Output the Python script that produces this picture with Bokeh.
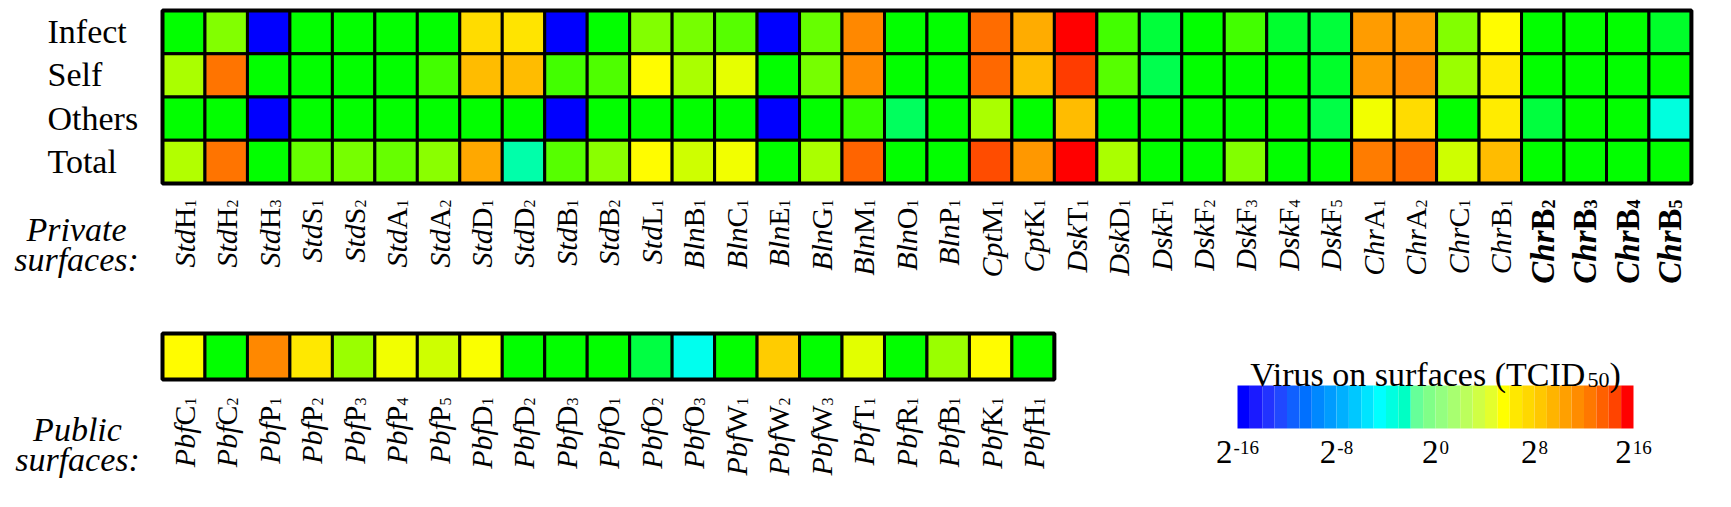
import colorsys
import numpy as np
from bokeh.plotting import figure
from bokeh.models import (ColumnDataSource, LinearColorMapper, Range1d, LabelSet, Label)
from bokeh.embed import file_html
from bokeh.resources import INLINE

# ---------------- data ----------------
rows = ["Infect", "Self", "Others", "Total"]

private_prefix = ["Std"] * 12 + ["Bln"] * 7 + ["Cpt"] * 2 + ["Dsk"] * 7 + ["Chr"] * 8
private_letter = ["H", "H", "H", "S", "S", "A", "A", "D", "D", "B", "B", "L",
                  "B", "C", "E", "G", "M", "O", "P",
                  "M", "K",
                  "T", "D", "F", "F", "F", "F", "F",
                  "A", "A", "C", "B", "B", "B", "B", "B"]
private_sub = ["1", "2", "3", "1", "2", "1", "2", "1", "2", "1", "2", "1",
               "1", "1", "1", "1", "1", "1", "1",
               "1", "1",
               "1", "1", "1", "2", "3", "4", "5",
               "1", "2", "1", "1", "2", "3", "4", "5"]
private_bold = [False] * 32 + [True] * 4

# log2 of virus on surfaces (TCID50)
infect = [0, 4, -16, 0, 0, 0, 0, 9, 8.8, -16,
          0, 4, 3.7, 2.7, -16, 3.2, 11.7, 0, 0, 12.5, 10.5, 16, 2.1, -1.8,
          0, 2, -1.5, -1.8, 11, 11, 4, 8, 0, 0, 0, -1.3]
self_ = [5.3, 12.3, 0, 0, 0, 0, 2.1, 10, 10.1, 2,
         2.4, 8, 5.3, 7.2, 0, 3.7, 11.6, 0, 0, 12.7, 10, 14, 2.7, -2.5,
         0, 0, 0, -1.3, 11, 11.6, 4.8, 8.5, 0, 0, 0, 0]
others = [0, 0, -16, 0, 0, 0, 0, 0, 0, -16,
          0, 0, 0, 0, -16, 0, 1.6, -3, 0, 5.3, 0, 10, 0, 0,
          0, 0, 0, -2.2, 7.5, 9, 0, 8.5, -1.9, 0, 0, -6.9]
total = [5.5, 12.3, 0, 3.2, 3.7, 3.2, 4.3, 10.7, -5.3, 2.7,
         4.3, 8, 6.4, 7.5, 0, 5.3, 12.8, 0, 0, 13.6, 11.2, 16, 5.3, 0,
         0, 4, 0, 0, 12, 12.5, 6.4, 10, 0, 0, 0, 0]

public_prefix = ["Pbf"] * 21
public_letter = ["C", "C", "P", "P", "P", "P", "P", "D", "D", "D", "O", "O", "O",
                 "W", "W", "W", "T", "R", "B", "K", "H"]
public_sub = ["1", "2", "1", "2", "3", "4", "5", "1", "2", "3", "1", "2", "3",
              "1", "2", "3", "1", "1", "1", "1", "1"]
public_vals = [8, 0, 11.7, 8.7, 4.8, 7.5, 6.4, 7.8, 0, 0, 0, -2.1, -7.5,
               0, 9.6, 0, 7, 0, 4.8, 8, 0]

cbar_ticks = [-16, -8, 0, 8, 16]          # log2 values
cbar_tick_base = "2"
cbar_tick_exp = ["-16", "-8", "0", "8", "16"]
cbar_title_main, cbar_title_sub, cbar_title_end = "Virus on surfaces (TCID", "50", ")"

# ---------------- styles / layout ----------------
FONT = "Liberation Serif"
cbar_palette = ["#0000ff", "#1a1aff", "#2233ff", "#2048ff", "#1060ff", "#0070ff", "#0088ff", "#009cff",
                "#00b0ff", "#00c8ff", "#00e4ff", "#00ffff", "#00ffe0", "#00ffc4", "#66ff99", "#80ff88",
                "#94ff80", "#a8ff70", "#bcff5c", "#d0ff44", "#e4ff2c", "#ffff00", "#ffe800", "#ffd800",
                "#ffc800", "#ffb400", "#ffa000", "#ff8c00", "#ff7800", "#ff6000", "#ff4400", "#ff0000"]

W, H = 1715, 491              # canvas
PX_X, PX_Y = 42.47, 43.25     # pixels per cell
GRID_LEFT, GRID_TOP = 162, 10 # top grid position on the canvas (px)
GRID_BOTTOM = GRID_TOP + PX_Y * len(rows)


def ypx(canvas_y):
    """canvas pixel row -> y data units (top grid bottom edge = 0)"""
    return -(canvas_y - GRID_BOTTOM) / PX_Y


def hue_palette(n=256):
    pal = []
    for i in range(n):
        h = (240.0 - 240.0 * i / (n - 1)) / 360.0
        r, g, b = colorsys.hsv_to_rgb(h, 1, 1)
        pal.append("#%02x%02x%02x" % (round(r * 255), round(g * 255), round(b * 255)))
    return pal


cell_mapper = LinearColorMapper(palette=hue_palette(), low=cbar_ticks[0], high=cbar_ticks[-1])

# Times / Liberation Serif advance widths (em)
W_REG = {"A": .722, "B": .667, "C": .667, "D": .722, "E": .611, "F": .556, "G": .722, "H": .722,
         "I": .333, "K": .722, "L": .611, "M": .889, "O": .722, "P": .556, "R": .667, "S": .556,
         "T": .611, "V": .722, "W": .944, "-": .333, " ": .25, "(": .333, ")": .333,
         "a": .444, "c": .444, "e": .444, "f": .333, "i": .278, "n": .5, "o": .5, "r": .333,
         "s": .389, "u": .5,
         "0": .5, "1": .5, "2": .5, "3": .5, "4": .5, "5": .5, "6": .5, "7": .5, "8": .5, "9": .5}


def tw(s, size):
    return sum(W_REG[c] for c in s) * size


p = figure(width=W, height=H, output_backend="svg", toolbar_location=None,
           x_range=Range1d(-GRID_LEFT / PX_X, (W - GRID_LEFT) / PX_X),
           y_range=Range1d(ypx(H), ypx(0)),
           min_border=0, min_border_left=0, min_border_right=0,
           min_border_top=0, min_border_bottom=0)
p.title.visible = False
p.axis.visible = False
p.grid.visible = False
p.outline_line_color = None
p.background_fill_color = "white"
p.border_fill_color = "white"

# colour-bar value range: -16..16 spans canvas px 1237..1633
CB_L, CB_R = 1237, 1633
cb_ppu = (CB_R - CB_L) / (cbar_ticks[-1] - cbar_ticks[0])
p.extra_x_ranges = {"cb": Range1d(cbar_ticks[0] - CB_L / cb_ppu, cbar_ticks[-1] + (W - CB_R) / cb_ppu)}


def add_col_labels(prefix, letter, sub, bold, y_top):
    xs = [i + 0.5 for i in range(len(prefix))]
    fs, fs_sub, fsp, fsl, ys, yl, yp = [], [], [], [], [], [], []
    for l, b in zip(letter, bold):
        f = 33 if b else 30
        fsub = 18 if b else 16
        w_sub = 0.5 * fsub
        w_let = W_REG[l] * f
        fs.append("%dpx" % f)
        fs_sub.append("%dpx" % fsub)
        fsp.append("bold italic" if b else "italic")
        fsl.append("bold" if b else "normal")
        ys.append(y_top)
        yl.append(y_top - w_sub / PX_Y)
        yp.append(y_top - (w_sub + w_let) / PX_Y)
    src = ColumnDataSource(dict(x=xs, pre=prefix, let=letter, sub=sub, fs=fs, fs_sub=fs_sub,
                                fsp=fsp, fsl=fsl, ys=ys, yl=yl, yp=yp))
    common = dict(x="x", source=src, angle=np.pi / 2, text_align="right",
                  text_baseline="alphabetic", text_font=FONT, text_color="black")
    p.add_layout(LabelSet(y="yp", text="pre", text_font_size=dict(field="fs"),
                          text_font_style=dict(field="fsp"), x_offset=11, **common))
    p.add_layout(LabelSet(y="yl", text="let", text_font_size=dict(field="fs"),
                          text_font_style=dict(field="fsl"), x_offset=11, **common))
    p.add_layout(LabelSet(y="ys", text="sub", text_font_size=dict(field="fs_sub"),
                          text_font_style=dict(field="fsl"), x_offset=12, **common))


def side_title(lines, x_center_px, baselines_px):
    for txt, bpx in zip(lines, baselines_px):
        p.add_layout(Label(x=(x_center_px - GRID_LEFT) / PX_X, y=ypx(bpx), text=txt,
                           text_align="center", text_baseline="alphabetic", text_font=FONT,
                           text_font_size="34px", text_font_style="italic", text_color="black"))


# ---------------- top heatmap (private surfaces) ----------------
series = {"Infect": infect, "Self": self_, "Others": others, "Total": total}
hx, hy, hv = [], [], []
for ri, r in enumerate(rows):
    for ci, v in enumerate(series[r]):
        hx.append(ci + 0.5)
        hy.append(len(rows) - ri - 0.5)
        hv.append(v)
p.rect(x="x", y="y", width=1, height=1, fill_color={"field": "v", "transform": cell_mapper},
       line_color="black", line_width=3, source=ColumnDataSource(dict(x=hx, y=hy, v=hv)))
p.quad(left=[0], right=[len(private_letter)], bottom=[0], top=[len(rows)],
       fill_color=None, line_color="black", line_width=4)

row_src = ColumnDataSource(dict(x=[(55 - 8 - GRID_LEFT) / PX_X] * len(rows),
                                y=[len(rows) - ri - 0.5 - 11 / PX_Y for ri in range(len(rows))],
                                t=rows))
p.add_layout(LabelSet(x="x", y="y", text="t", source=row_src, text_align="left",
                      text_baseline="alphabetic", text_font=FONT, text_font_size="34px",
                      text_color="black"))

add_col_labels(private_prefix, private_letter, private_sub, private_bold, ypx(GRID_BOTTOM + 16))
side_title(["Private", "surfaces:"], 76, [229, 259])

# ---------------- bottom heatmap (public surfaces) ----------------
PUB_TOP, PUB_H = 333, 46   # canvas px
pub_y = ypx(PUB_TOP + PUB_H / 2)
pub_h = PUB_H / PX_Y
px_ = [i + 0.5 for i in range(len(public_vals))]
p.rect(x="x", y="y", width=1, height=pub_h, fill_color={"field": "v", "transform": cell_mapper},
       line_color="black", line_width=3,
       source=ColumnDataSource(dict(x=px_, y=[pub_y] * len(px_), v=public_vals)))
p.quad(left=[0], right=[len(public_vals)], bottom=[pub_y - pub_h / 2], top=[pub_y + pub_h / 2],
       fill_color=None, line_color="black", line_width=4)
add_col_labels(public_prefix, public_letter, public_sub, [False] * len(public_letter),
               ypx(PUB_TOP + PUB_H + 18))
side_title(["Public", "surfaces:"], 77, [429, 459])

# ---------------- colour bar ----------------
CB_TOP, CB_BOT = 385, 428
edges = np.linspace(cbar_ticks[0], cbar_ticks[-1], len(cbar_palette) + 1)
p.quad(left=edges[:-1], right=edges[1:], bottom=ypx(CB_BOT), top=ypx(CB_TOP),
       fill_color=cbar_palette, line_color=None, x_range_name="cb")

# tick labels "2^n": base and raised exponent, centred together on each tick
F_BASE, F_EXP = 33, 19
w_base = tw(cbar_tick_base, F_BASE)
bx, ex = [], []
for t, e in zip(cbar_ticks, cbar_tick_exp):
    start = t - (w_base + 1 + tw(e, F_EXP)) / 2 / cb_ppu
    bx.append(start)
    ex.append(start + (w_base + 1) / cb_ppu)
tick_src = ColumnDataSource(dict(bx=bx, ex=ex, b=[cbar_tick_base] * len(cbar_ticks), e=cbar_tick_exp,
                                 by=[ypx(462)] * len(cbar_ticks), ey=[ypx(453)] * len(cbar_ticks)))
p.add_layout(LabelSet(x="bx", y="by", text="b", source=tick_src, x_range_name="cb",
                      text_align="left", text_baseline="alphabetic", text_font=FONT,
                      text_font_size="%dpx" % F_BASE, text_color="black"))
p.add_layout(LabelSet(x="ex", y="ey", text="e", source=tick_src, x_range_name="cb",
                      text_align="left", text_baseline="alphabetic", text_font=FONT,
                      text_font_size="%dpx" % F_EXP, text_color="black"))

# colour-bar title with subscript, centred over the bar
F_T, F_TS = 34, 22
w_main, w_sub_t, w_end = tw(cbar_title_main, F_T), tw(cbar_title_sub, F_TS), tw(cbar_title_end, F_T)
t_start = (cbar_ticks[0] + cbar_ticks[-1]) / 2 - (w_main + w_sub_t + w_end) / 2 / cb_ppu
T_BASE = 374
for txt, x0, fsz, base in ((cbar_title_main, t_start, F_T, T_BASE),
                           (cbar_title_sub, t_start + w_main / cb_ppu, F_TS, T_BASE + 5),
                           (cbar_title_end, t_start + (w_main + w_sub_t) / cb_ppu, F_T, T_BASE)):
    p.add_layout(Label(x=x0, y=ypx(base), x_range_name="cb", text=txt, text_align="left",
                       text_baseline="alphabetic", text_font=FONT, text_font_size="%dpx" % fsz,
                       text_color="black"))

open("out.html", "w").write(file_html(p, INLINE))
